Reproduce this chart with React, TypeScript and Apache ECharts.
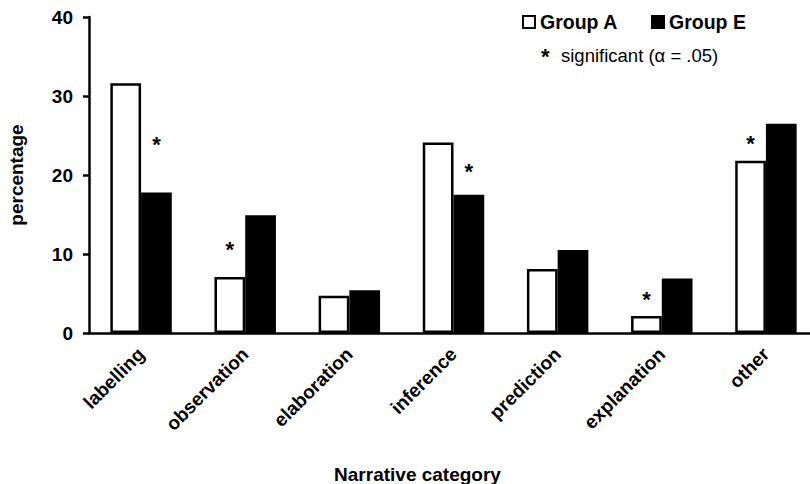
import React, { useEffect, useRef } from "react";
import * as echarts from "echarts";

const categories = ["labelling", "observation", "elaboration", "inference", "prediction", "explanation", "other"];
const groupA = [31.6, 7.1, 4.7, 24.1, 8.1, 2.15, 21.8];
const groupE = [17.8, 14.9, 5.4, 17.5, 10.5, 6.9, 26.5];
// height (in percentage units) of the significance asterisk; null = not significant
const sigA = [null, 10.9, null, null, null, 4.6, 24.4];
const sigE = [24.2, null, null, 20.8, null, null, null];
const yTicks = { min: 0, max: 40, interval: 10 };

const FONT = "'Liberation Sans', Arial, sans-serif";

function sigPoints(arr: (number | null)[]) {
  const pts: any[] = [];
  arr.forEach((v, i) => {
    if (v !== null) pts.push({ coord: [categories[i], v] });
  });
  return pts;
}

const markStyle = (arr: (number | null)[]) => ({
  symbol: "rect",
  symbolSize: 1,
  silent: true,
  itemStyle: { color: "transparent", borderWidth: 0 },
  label: {
    show: true,
    position: "inside",
    formatter: "*",
    color: "#000",
    fontSize: 22,
    fontWeight: "bold",
    fontFamily: FONT,
    offset: [0, 3],
  },
  data: sigPoints(arr),
});

export default function App() {
  const ref = useRef<HTMLDivElement>(null);
  useEffect(() => {
    if (!ref.current) return;
    const chart = echarts.init(ref.current, undefined, { renderer: "svg" });
    chart.setOption({
      animation: false,
      backgroundColor: "#fff",
      textStyle: { fontFamily: FONT },
      grid: { left: 89, width: 729, top: 17, height: 316, containLabel: false, outerBoundsMode: "none" },
      legend: {
        data: ["Group A", "Group E"],
        left: 522,
        top: 12,
        padding: 0,
        icon: "rect",
        itemWidth: 12,
        itemHeight: 12,
        itemGap: 33,
        textStyle: { fontSize: 19.5, fontWeight: "bold", color: "#000", fontFamily: FONT },
      },
      xAxis: {
        type: "category",
        data: categories,
        name: "Narrative category",
        nameLocation: "middle",
        nameGap: 132,
        nameTextStyle: { fontSize: 19, fontWeight: "bold", color: "#000", fontFamily: FONT, padding: [0, 72, 0, 0] },
        axisLine: { lineStyle: { color: "#000", width: 2.5 } },
        axisTick: { show: false },
        axisLabel: { rotate: 45, margin: 18, fontSize: 19, fontWeight: "bold", color: "#000", fontFamily: FONT, interval: 0 },
      },
      yAxis: {
        type: "value",
        min: yTicks.min,
        max: yTicks.max,
        interval: yTicks.interval,
        name: "percentage",
        nameLocation: "middle",
        nameGap: 63,
        nameTextStyle: { fontSize: 19, fontWeight: "bold", color: "#000", fontFamily: FONT },
        splitLine: { show: false },
        axisLine: { show: true, lineStyle: { color: "#000", width: 2.5 } },
        axisTick: { show: true, inside: false, length: 6, lineStyle: { color: "#000", width: 2.5 } },
        axisLabel: { margin: 16, fontSize: 19, fontWeight: "bold", color: "#000", fontFamily: FONT },
      },
      series: [
        {
          name: "Group A",
          type: "bar",
          data: groupA,
          barGap: "0%",
          barCategoryGap: "41%",
          itemStyle: { color: "#fff", borderColor: "#000", borderWidth: 2.5 },
          markPoint: markStyle(sigA),
        },
        {
          name: "Group E",
          type: "bar",
          data: groupE,
          barGap: "0%",
          barCategoryGap: "41%",
          itemStyle: { color: "#000", borderColor: "#000", borderWidth: 2.5 },
          markPoint: markStyle(sigE),
        },
      ],
      graphic: [
        {
          type: "text",
          left: 541,
          top: 45,
          style: { text: "*", fontSize: 22, fontWeight: "bold", fill: "#000", fontFamily: FONT },
        },
        {
          type: "text",
          left: 561,
          top: 46,
          style: { text: "significant (α = .05)", fontSize: 18.5, fill: "#000", fontFamily: FONT },
        },
      ],
    });
    return () => chart.dispose();
  }, []);
  return (
    <div
      ref={ref}
      style={{ position: "fixed", left: 0, top: 0, width: 810, height: 484, background: "#fff" }}
    />
  );
}
